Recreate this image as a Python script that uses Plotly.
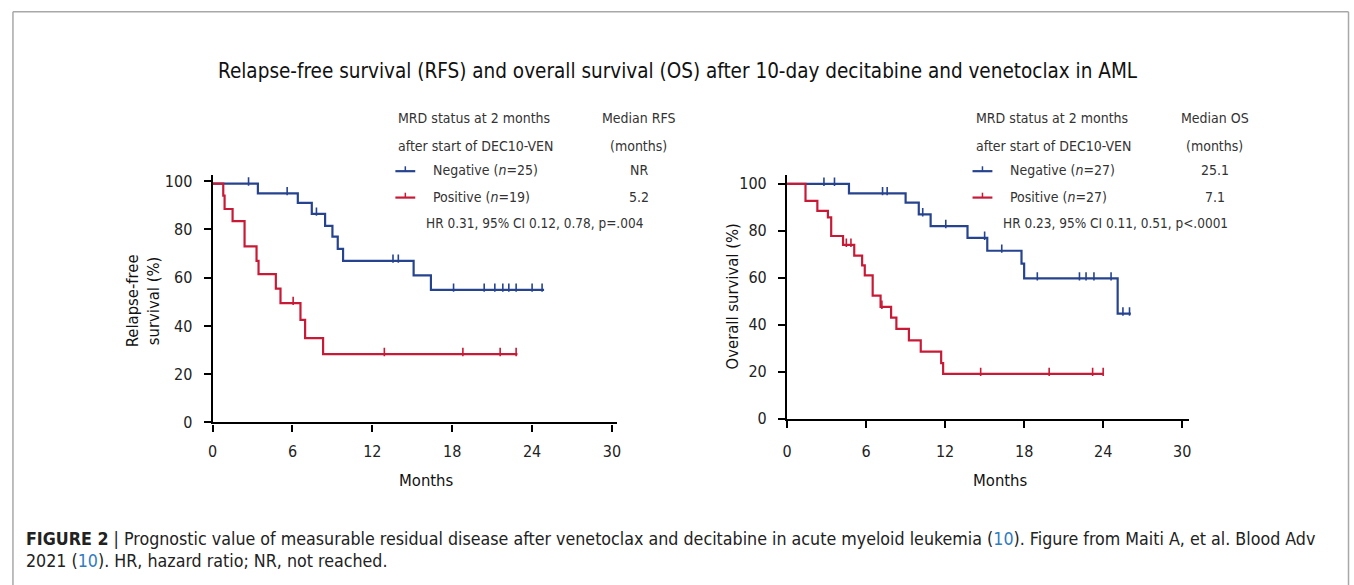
import plotly.graph_objects as go

# ---------------- data ----------------
# Relapse-free survival, MRD negative
neg_rfs_t = [0, 3.4, 6.4, 7.45, 8.45, 9.0, 9.4, 9.8, 15.1, 16.4, 24.9]
neg_rfs_s = [99, 95, 91, 86.5, 81.5, 77, 72, 67, 61, 55, 55]
neg_rfs_cens = [2.7, 5.6, 7.8, 13.55, 13.95, 18.1, 20.4, 21.2, 21.8, 22.25, 22.8, 24.0, 24.75]
# Relapse-free survival, MRD positive
pos_rfs_t = [0, 0.8, 0.9, 1.5, 2.4, 3.3, 3.45, 4.75, 5.1, 6.6, 6.95, 8.3, 22.9]
pos_rfs_s = [99, 94, 88.5, 83.5, 73, 67, 61.5, 55.5, 49.5, 42.5, 35, 28.3, 28.3]
pos_rfs_cens = [6.05, 12.9, 18.8, 21.6, 22.8]
# Overall survival, MRD negative
neg_os_t = [0, 4.7, 9.0, 10.0, 10.9, 13.7, 15.2, 17.8, 18.0, 25.1, 26.1]
neg_os_s = [100, 96, 92, 87, 82, 77, 71.5, 66, 59.7, 44.7, 44.7]
neg_os_cens = [2.8, 3.6, 7.25, 7.6, 10.3, 12.05, 15.0, 16.3, 19.0, 22.2, 22.7, 23.3, 24.6, 25.5, 26.0]
# Overall survival, MRD positive
pos_os_t = [0, 1.4, 2.3, 3.1, 3.35, 4.25, 5.1, 5.7, 5.9, 6.5, 7.1, 7.9, 8.3, 9.25, 10.15, 11.7, 11.85, 24.0]
pos_os_s = [100, 92.8, 88.5, 85.7, 77.8, 74, 69.4, 65.3, 61, 52.4, 47.6, 43, 38.2, 33.3, 28.5, 23.6, 19, 19]
pos_os_cens = [4.5, 4.85, 7.2, 14.7, 19.9, 23.2, 24.0]

x_ticks = [0, 6, 12, 18, 24, 30]
y_ticks = [0, 20, 40, 60, 80, 100]

title_text = "Relapse-free survival (RFS) and overall survival (OS) after 10-day decitabine and venetoclax in AML"
rfs_legend = {"head": ["MRD status at 2 months", "after start of DEC10-VEN"],
              "med_head": ["Median RFS", "(months)"],
              "rows": ["Negative (<i>n</i>=25)", "Positive (<i>n</i>=19)"],
              "med": ["NR", "5.2"],
              "hr": "HR 0.31, 95% CI 0.12, 0.78, p=.004"}
os_legend = {"head": ["MRD status at 2 months", "after start of DEC10-VEN"],
             "med_head": ["Median OS", "(months)"],
             "rows": ["Negative (<i>n</i>=27)", "Positive (<i>n</i>=27)"],
             "med": ["25.1", "7.1"],
             "hr": "HR 0.23, 95% CI 0.11, 0.51, p<.0001"}

BLUE = "#26438f"
RED = "#c81a36"
NARROW = "Liberation Sans Narrow, Arial Narrow, DejaVu Sans Condensed, sans-serif"
W, H = 1354, 585


def px(x):
    return x / W


def py(y):
    return 1 - y / H


def step_at(ts, ss, t):
    v = ss[0]
    for ti, si in zip(ts, ss):
        if ti <= t:
            v = si
    return v


fig = go.Figure()

curves = [
    (neg_rfs_t, neg_rfs_s, neg_rfs_cens, BLUE, "x", "y"),
    (pos_rfs_t, pos_rfs_s, pos_rfs_cens, RED, "x", "y"),
    (neg_os_t, neg_os_s, neg_os_cens, BLUE, "x2", "y2"),
    (pos_os_t, pos_os_s, pos_os_cens, RED, "x2", "y2"),
]
for ts, ss, cens, col, xa, ya in curves:
    fig.add_trace(go.Scatter(x=ts, y=ss, mode="lines", line=dict(color=col, width=2.2, shape="hv"),
                             xaxis=xa, yaxis=ya, showlegend=False, hoverinfo="skip"))
    fig.add_trace(go.Scatter(x=cens, y=[step_at(ts, ss, c) + 0.9 for c in cens], mode="markers",
                             marker=dict(symbol="line-ns", size=6, line=dict(color=col, width=1.6)),
                             xaxis=xa, yaxis=ya, showlegend=False, hoverinfo="skip"))

axis_common = dict(showgrid=False, zeroline=False, showline=True, linecolor="black", linewidth=2.2,
                   ticks="outside", ticklen=7, tickwidth=2, tickcolor="black",
                   tickfont=dict(family=NARROW, size=16, color="#222"), fixedrange=True)

fig.update_layout(
    width=W, height=H, margin=dict(l=0, r=0, t=0, b=0),
    paper_bgcolor="white", plot_bgcolor="rgba(0,0,0,0)",
    xaxis=dict(domain=[px(209), px(616.4)], range=[0, 30.4], tickvals=x_ticks, anchor="y",
               ticklabelstandoff=6, **axis_common),
    yaxis=dict(domain=[py(429), py(176)], range=[0, 102.55], tickvals=y_ticks, anchor="x",
               ticklabelstandoff=8, **axis_common),
    xaxis2=dict(domain=[px(787.3), px(1191.7)], range=[0, 30.5], tickvals=x_ticks, anchor="y2",
                ticklabelstandoff=10, **axis_common),
    yaxis2=dict(domain=[py(425), py(176)], range=[0, 103.75], tickvals=y_ticks, anchor="x2",
                ticklabelstandoff=8, **axis_common),
)

ann = []
shapes = []


def text(x, y, s, size=14, family=NARROW, color="#333", xanchor="left", angle=0):
    ann.append(dict(x=px(x), y=py(y), xref="paper", yref="paper", text=s, showarrow=False,
                    xanchor=xanchor, yanchor="middle", textangle=angle,
                    font=dict(family=family, size=size, color=color)))


# title
text(678, 70, title_text, size=20.5, xanchor="center", color="#111")

# axis titles
text(424, 488, "Months", size=16.5, xanchor="center", color="#111")
text(1002, 488, "Months", size=16.5, xanchor="center", color="#111")
text(139, 305, "Relapse-free<br>survival (%)", size=16.5, xanchor="center", color="#111", angle=-90)
text(732, 300, "Overall survival (%)", size=16.5, xanchor="center", color="#111", angle=-90)


# legend blocks
def legend_block(x0, xmed, leg):
    text(x0 - 3, 118, leg["head"][0])
    text(x0 - 3, 146, leg["head"][1])
    text(xmed, 118, leg["med_head"][0], xanchor="center")
    text(xmed, 146, leg["med_head"][1], xanchor="center")
    for i, (lab, med, col) in enumerate(zip(leg["rows"], leg["med"], [BLUE, RED])):
        yy = 172 + 27 * i
        shapes.append(dict(type="line", xref="paper", yref="paper", x0=px(x0 - 4), x1=px(x0 + 16),
                           y0=py(yy), y1=py(yy), line=dict(color=col, width=2.2)))
        shapes.append(dict(type="line", xref="paper", yref="paper", x0=px(x0 + 6), x1=px(x0 + 6),
                           y0=py(yy), y1=py(yy - 5), line=dict(color=col, width=1.5)))
        text(x0 + 32, yy - 1, lab)
        text(xmed, yy - 1, med, xanchor="center")
    text(x0 + 25, 225, leg["hr"], size=13.5)


legend_block(397, 638, rfs_legend)
legend_block(978, 1218, os_legend)

# caption
LINK = "#2f7bbf"
text(19, 548, "<b>FIGURE 2</b> | Prognostic value of measurable residual disease after venetoclax and decitabine in acute myeloid leukemia "
     "(<span style='color:%s'>10</span>). Figure from Maiti A, et al. Blood Adv" % LINK,
     size=17.7, color="#222")
text(19, 571, "2021 (<span style='color:%s'>10</span>). HR, hazard ratio; NR, not reached." % LINK,
     size=17.7, color="#222")

# frame
frame = dict(color="#a8a8a8", width=1.5)
shapes.append(dict(type="line", xref="paper", yref="paper", x0=px(8), x1=px(1352.5), y0=py(9), y1=py(9), line=frame))
shapes.append(dict(type="line", xref="paper", yref="paper", x0=px(8), x1=px(8), y0=py(9), y1=py(600), line=frame))
shapes.append(dict(type="line", xref="paper", yref="paper", x0=px(1352.5), x1=px(1352.5), y0=py(9), y1=py(600), line=frame))

fig.update_layout(annotations=ann, shapes=shapes)

post = (
    "document.documentElement.style.margin='0';"
    "document.body.style.margin='0';"
    "document.documentElement.style.overflow='hidden';"
    "document.body.style.overflow='hidden';"
    "var gd=document.getElementById('{plot_id}');"
    "Plotly.relayout(gd,{width:window.innerWidth,height:window.innerHeight});"
)
fig.write_html("out.html", config={"displayModeBar": False}, post_script=post)
